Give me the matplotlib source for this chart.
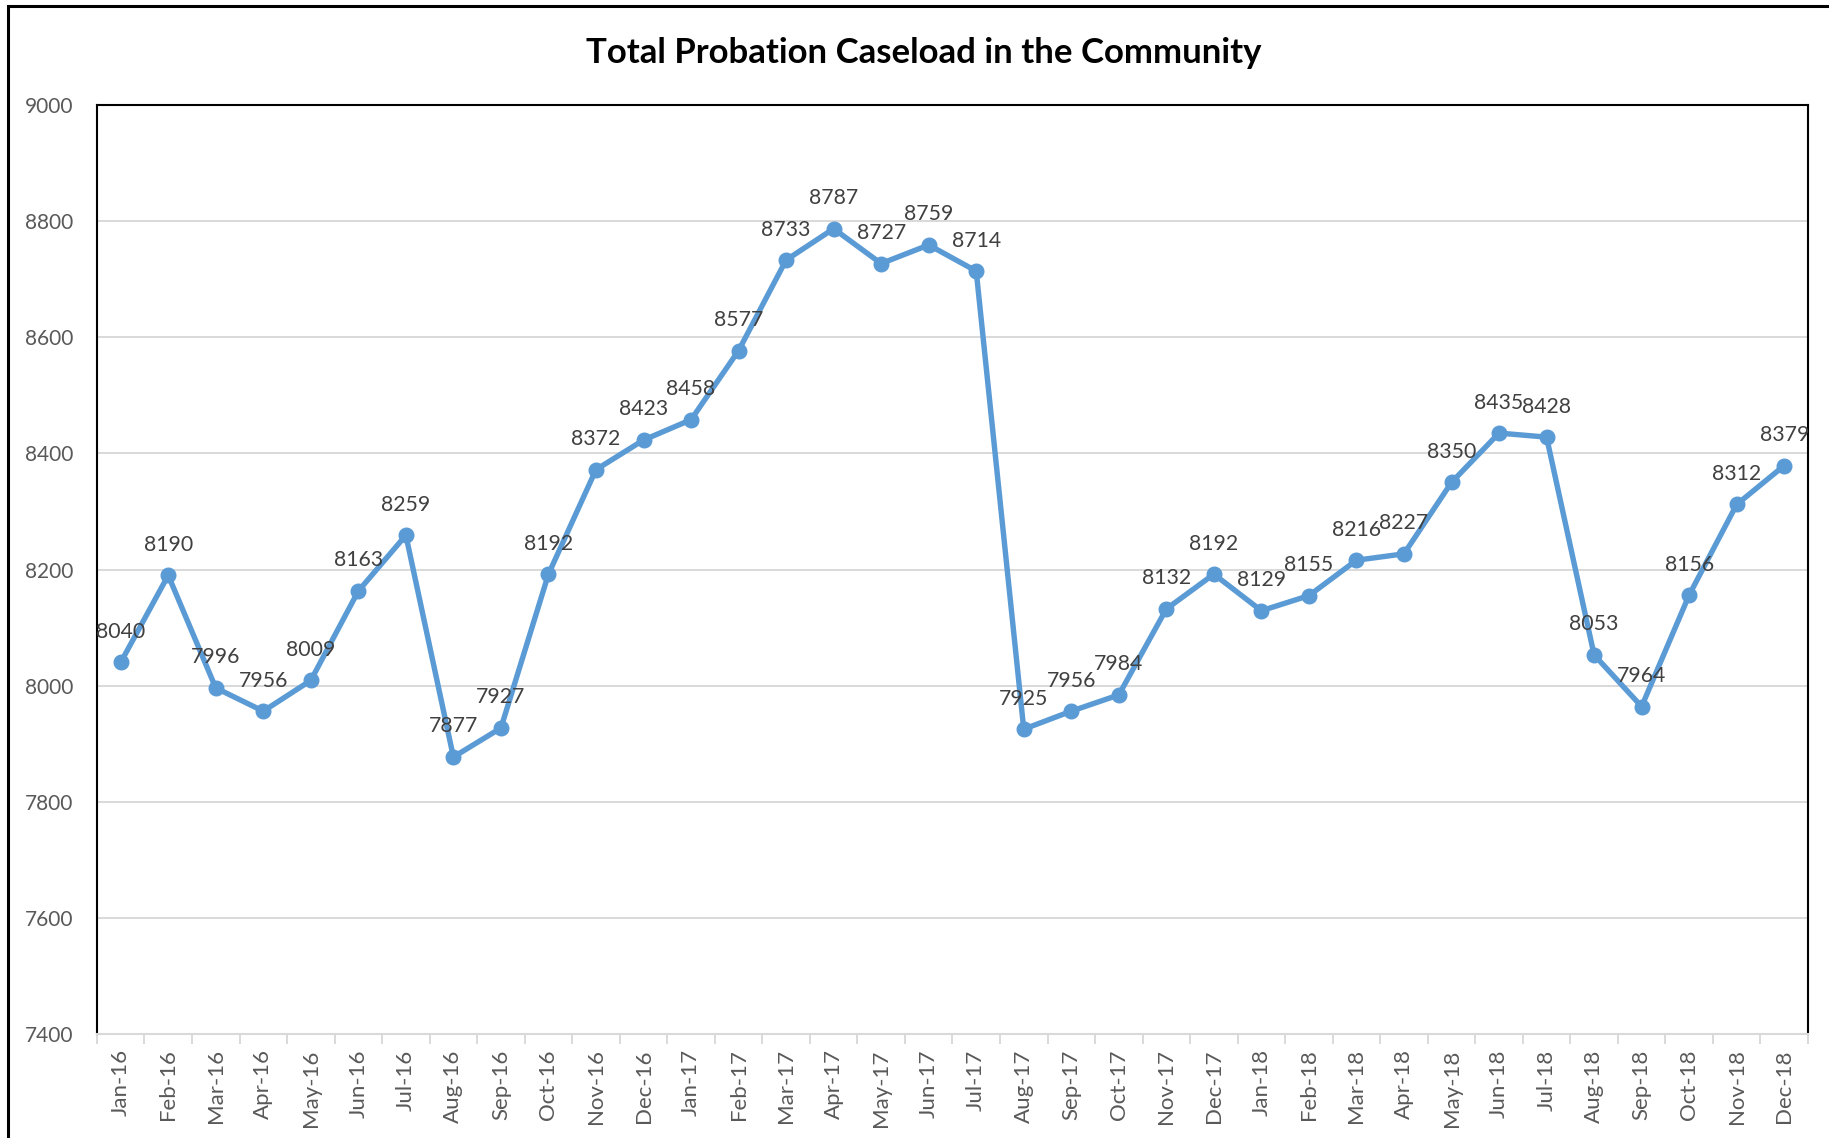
import matplotlib
matplotlib.use("Agg")
import matplotlib.pyplot as plt
from matplotlib.patches import Rectangle
import numpy as np

months = ["Jan", "Feb", "Mar", "Apr", "May", "Jun",
          "Jul", "Aug", "Sep", "Oct", "Nov", "Dec"]
years = ["16", "17", "18"]
labels = [f"{m}-{y}" for y in years for m in months]

caseload = [
    8040, 8190, 7996, 7956, 8009, 8163, 8259, 7877, 7927, 8192, 8372, 8423,
    8458, 8577, 8733, 8787, 8727, 8759, 8714, 7925, 7956, 7984, 8132, 8192,
    8129, 8155, 8216, 8227, 8350, 8435, 8428, 8053, 7964, 8156, 8312, 8379,
]
y_ticks = [7400, 7600, 7800, 8000, 8200, 8400, 8600, 8800, 9000]

plt.rcParams["font.family"] = ["Lato", "DejaVu Sans"]

blue = "#5B9BD5"
label_grey = "#404040"
tick_grey = "#595959"
grid_grey = "#D9D9D9"

fig = plt.figure(figsize=(18.29, 11.38), dpi=100)
ax = fig.add_axes([0.053, 0.0914, 0.9355, 0.8163])

x = np.arange(len(caseload))
ax.plot(x, caseload, color=blue, lw=3.9, marker="o", ms=10.5,
        solid_joinstyle="round", zorder=3)

for xi, v in zip(x, caseload):
    ax.annotate(str(v), (xi, v), xytext=(0, 22), textcoords="offset points",
                ha="center", va="center", fontsize=15.3, color=label_grey,
                zorder=4)

ax.set_xlim(-0.5, len(caseload) - 0.5)
ax.set_ylim(7400, 9000)
ax.set_yticks(y_ticks)
ax.tick_params(axis="y", length=0, pad=17, labelsize=15, labelcolor=tick_grey)
ax.yaxis.grid(True, color=grid_grey, lw=1.4, zorder=0)

ax.set_xticks(x)
ax.set_xticklabels(labels, rotation=90)
ax.tick_params(axis="x", which="major", length=0, pad=11, labelsize=16,
               labelcolor=tick_grey)
ax.set_xticks(np.arange(-0.5, len(caseload)), minor=True)
ax.tick_params(axis="x", which="minor", length=7, width=1.4, color=grid_grey)

for side in ["top", "left", "right"]:
    ax.spines[side].set_color("black")
    ax.spines[side].set_linewidth(1.5)
ax.spines["bottom"].set_color(grid_grey)
ax.spines["bottom"].set_linewidth(1.5)
ax.set_axisbelow(True)

fig.text(0.505, 1 - 53 / 1138, "Total Probation Caseload in the Community",
         ha="center", va="center", fontsize=25, fontweight="bold")

# outer chart border, only left and top edges are visible in the crop
fig.patches.append(Rectangle((8 / 1829, -0.1), 1.1, 1.1 - 6 / 1138,
                             transform=fig.transFigure, fill=False,
                             edgecolor="black", lw=2.2))

fig.savefig("out.png", dpi=100)
